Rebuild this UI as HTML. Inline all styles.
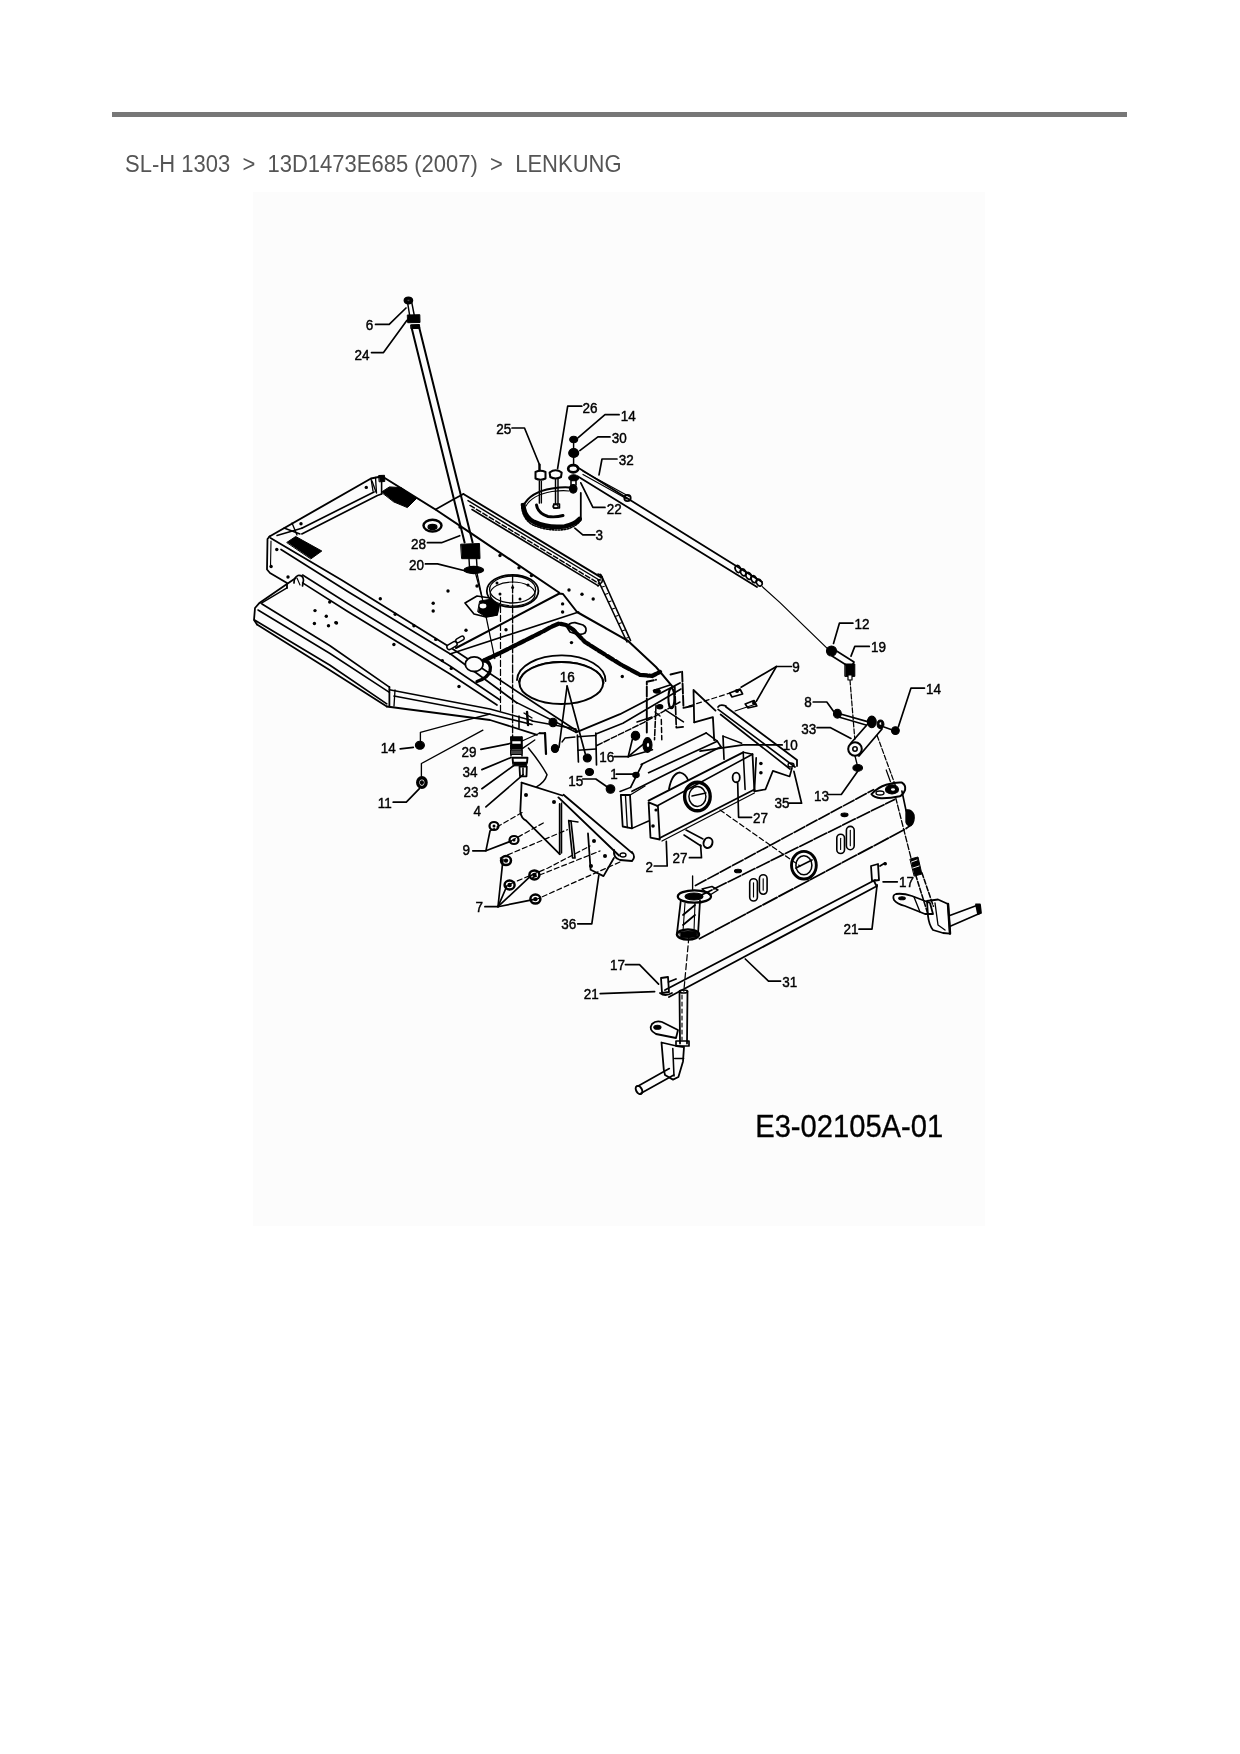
<!DOCTYPE html>
<html><head><meta charset="utf-8">
<style>
html,body{margin:0;padding:0;background:#fff;}
body{width:1240px;height:1754px;position:relative;overflow:hidden;font-family:"Liberation Sans",sans-serif;}
#rule{position:absolute;left:112px;top:112px;width:1015px;height:5px;background:#777;}
#crumb{position:absolute;left:125px;top:150.7px;font-size:22px;color:#555;white-space:pre;line-height:24px;transform:scaleY(1.08);transform-origin:0 0;}
#fig{position:absolute;left:253px;top:192px;width:732px;height:1034px;background:#fcfcfc;}
#dia{position:absolute;left:0;top:0;}
#crumb,#dia{filter:grayscale(1);}
</style></head><body>
<div id="rule"></div>
<div id="crumb">SL-H 1303  &gt;  13D1473E685 (2007)  &gt;  LENKUNG</div>
<div id="fig"></div>
<svg id="dia" width="1240" height="1754" viewBox="0 0 1240 1754">
<g fill="none" stroke="#000" stroke-width="1.6" stroke-linecap="round" stroke-linejoin="round">
<polyline points="375.5,324.4 389.2,324.4 406.0,308.0" stroke-width="1.68"/>
<polyline points="371.5,352.6 383.5,352.6 407.0,320.3" stroke-width="1.68"/>
<polyline points="512.0,428.0 524.5,428.0 539.5,464.7" stroke-width="1.68"/>
<polyline points="581.8,406.2 567.7,406.2 557.6,468.7" stroke-width="1.68"/>
<polyline points="619.1,414.7 605.0,414.7 578.2,437.6" stroke-width="1.68"/>
<polyline points="610.0,436.9 597.9,436.9 579.8,450.6" stroke-width="1.68"/>
<polyline points="617.0,459.0 602.0,459.0 599.0,474.8" stroke-width="1.68"/>
<polyline points="605.0,507.4 592.9,507.4 580.8,482.8" stroke-width="1.68"/>
<polyline points="594.9,534.8 582.8,534.8 574.8,528.2" stroke-width="1.68"/>
<polyline points="427.4,542.7 441.5,542.7 459.7,535.7" stroke-width="1.68"/>
<polyline points="425.4,563.9 437.5,563.9 469.8,572.0" stroke-width="1.68"/>
<polyline points="791.5,666.5 776.4,666.5 741.1,687.2" stroke-width="1.68"/>
<polyline points="776.4,666.5 756.3,701.3" stroke-width="1.68"/>
<polyline points="852.9,623.2 839.4,623.2 833.5,643.5" stroke-width="1.68"/>
<polyline points="869.3,646.4 854.8,646.4 851.0,656.1" stroke-width="1.68"/>
<polyline points="924.5,688.1 911.0,688.1 898.4,726.8" stroke-width="1.68"/>
<polyline points="813.2,702.0 826.8,702.0 833.5,711.3" stroke-width="1.68"/>
<polyline points="817.1,727.7 830.6,727.7 851.0,738.4" stroke-width="1.68"/>
<polyline points="782.2,744.9 743.2,744.9 700.0,751.2" stroke-width="1.68"/>
<polyline points="614.1,756.7 628.2,756.7 632.3,739.6" stroke-width="1.68"/>
<polyline points="628.2,756.7 646.4,741.6" stroke-width="1.68"/>
<polyline points="628.2,756.7 652.4,749.7" stroke-width="1.68"/>
<polyline points="616.2,774.2 633.8,774.2" stroke-width="1.68"/>
<polyline points="828.7,794.5 841.3,794.5 857.7,771.3" stroke-width="1.68"/>
<polyline points="789.0,803.2 801.6,803.2 793.9,771.3" stroke-width="1.68"/>
<polyline points="751.6,817.3 738.6,817.3 737.7,783.0" stroke-width="1.68"/>
<polyline points="689.4,857.7 701.5,857.7 700.6,845.1" stroke-width="1.68"/>
<polyline points="654.2,866.0 667.2,866.0 666.3,841.4" stroke-width="1.68"/>
<polyline points="400.2,748.8 413.3,747.4" stroke-width="1.68"/>
<polyline points="480.9,749.4 511.1,743.3" stroke-width="1.68"/>
<polyline points="481.9,769.6 511.1,757.5" stroke-width="1.68"/>
<polyline points="481.9,788.7 515.2,764.5" stroke-width="1.68"/>
<polyline points="485.9,806.9 523.2,774.6" stroke-width="1.68"/>
<polyline points="393.2,802.2 406.3,802.2 419.4,788.7" stroke-width="1.68"/>
<polyline points="582.7,779.0 595.8,779.0 609.9,788.7" stroke-width="1.68"/>
<polyline points="472.8,850.8 485.9,850.8 490.0,831.0" stroke-width="1.68"/>
<polyline points="485.9,850.8 511.1,841.1" stroke-width="1.68"/>
<polyline points="484.9,906.7 498.0,906.7 503.0,859.3" stroke-width="1.68"/>
<polyline points="498.0,906.7 507.1,885.5" stroke-width="1.68"/>
<polyline points="498.0,906.7 531.3,875.4" stroke-width="1.68"/>
<polyline points="498.0,906.7 533.3,899.6" stroke-width="1.68"/>
<polyline points="577.7,923.8 591.8,923.8 598.8,875.4" stroke-width="1.68"/>
<polyline points="897.3,881.8 883.1,881.8" stroke-width="1.68"/>
<polyline points="859.0,929.2 872.0,929.2 877.1,884.8" stroke-width="1.68"/>
<polyline points="780.6,981.1 768.5,981.1 745.3,959.0" stroke-width="1.68"/>
<polyline points="625.4,964.6 639.5,964.6 658.6,984.2" stroke-width="1.68"/>
<polyline points="600.2,993.6 654.6,991.6" stroke-width="1.68"/>
<polyline points="567.1,686.0 559.0,747.5" stroke-width="1.68"/>
<polyline points="567.1,686.0 585.2,753.5" stroke-width="1.68"/>
<ellipse cx="408.4" cy="300.5" rx="4.2" ry="3.4" stroke-width="1.34" fill="#000"/>
<ellipse cx="408.6" cy="300.3" rx="1.5" ry="0.9" stroke-width="0.56" fill="#555"/>
<polyline points="407.7,303.4 409.6,315.0" stroke-width="1.46"/>
<polyline points="411.8,302.6 414.2,315.0" stroke-width="1.46"/>
<polygon points="407.7,315.0 419.8,314.7 420.0,322.5 408.0,322.7" fill="#000" stroke-width="1.0"/>
<polygon points="411.0,324.8 419.5,324.5 419.8,328.4 411.2,328.6" fill="#000" stroke-width="1.0"/>
<polyline points="411.8,328.4 464.6,542.5" stroke-width="2.02"/>
<polyline points="419.0,326.8 472.6,542.5" stroke-width="2.02"/>
<polygon points="461.0,544.2 479.5,543.5 480.0,558.7 462.0,558.7" fill="#000" stroke-width="1.0"/>
<polyline points="469.0,558.7 469.5,567.0" stroke-width="1.46"/>
<polyline points="476.5,558.7 477.0,567.0" stroke-width="1.46"/>
<ellipse cx="473.8" cy="570" rx="9.8" ry="3.6" stroke-width="1.12" fill="#000"/>
<polyline points="475.5,573.2 482.0,597.4" stroke-width="1.34"/>
<polyline points="269.5,536.5 371.0,478.5 381.0,476.5" stroke-width="1.90"/>
<polyline points="301.8,528.2 374.0,492.0" stroke-width="1.68"/>
<polyline points="277.0,535.5 301.8,528.2" stroke-width="1.46"/>
<polyline points="301.8,533.9 377.4,495.5 381.6,494.0" stroke-width="1.68"/>
<polyline points="371.0,478.5 373.0,491.0" stroke-width="1.34"/>
<polyline points="375.5,477.5 376.5,493.0" stroke-width="1.34"/>
<polyline points="292.0,523.0 297.0,535.0" stroke-width="1.34"/>
<polyline points="284.0,528.0 300.0,534.0" stroke-width="1.34"/>
<polyline points="372.0,481.0 376.0,492.0" stroke-width="1.34"/>
<polyline points="381.5,476.0 435.5,509.5 472.0,533.8 559.0,592.5" stroke-width="2.02"/>
<polygon points="381.6,492.0 389.4,486.9 401.0,487.6 416.5,498.5 407.4,507.6 394.0,502.0" fill="#000" stroke-width="1.0"/>
<polygon points="379.0,475.5 384.5,475.3 384.8,481.5 379.5,481.8" fill="#000" stroke-width="1.0"/>
<polyline points="381.6,476.6 381.6,494.0" stroke-width="1.57"/>
<polygon points="287.0,542.3 295.7,536.5 321.8,551.0 311.1,558.7" fill="#000" stroke-width="1.0"/>
<polyline points="269.5,536.5 267.5,539.0 267.0,569.5 270.0,573.0 287.0,583.0 287.0,588.0" stroke-width="1.79"/>
<polyline points="271.0,541.0 270.5,567.0" stroke-width="1.12"/>
<polyline points="270.5,538.0 341.6,580.0 452.0,648.5 577.0,731.0" stroke-width="1.79"/>
<polyline points="281.0,549.5 347.7,591.5 452.0,655.0 517.0,703.0" stroke-width="1.68"/>
<polyline points="302.6,575.0 347.7,603.5 450.0,666.0 500.0,700.0" stroke-width="1.57"/>
<polyline points="302.6,582.9 347.7,611.5 450.0,674.0 497.0,705.0" stroke-width="1.68"/>
<path d="M294,583 Q294,577 298,575.5 Q303,575 303.5,580 L302.5,586" stroke-width="1.68" fill="none"/>
<polyline points="297.0,578.0 300.0,585.0" stroke-width="1.12"/>
<polyline points="295.7,578.0 259.7,602.7 255.0,608.0 254.0,620.0 257.0,624.5" stroke-width="1.79"/>
<polyline points="287.0,587.8 261.0,603.3" stroke-width="1.46"/>
<polyline points="262.0,604.0 330.0,645.8 389.4,687.1" stroke-width="1.68"/>
<polyline points="258.0,610.0 330.0,653.5 389.4,692.3" stroke-width="1.57"/>
<polyline points="254.5,620.0 330.0,665.2 386.8,703.9" stroke-width="1.68"/>
<polyline points="257.0,624.5 330.0,670.3 386.8,706.5" stroke-width="1.79"/>
<polyline points="389.4,687.0 389.4,706.5" stroke-width="1.79"/>
<polyline points="395.0,690.0 394.0,706.0" stroke-width="1.34"/>
<polyline points="389.4,689.7 490.0,709.0 532.0,720.6" stroke-width="1.57"/>
<polyline points="394.0,696.1 490.0,714.2 532.0,724.5" stroke-width="1.57"/>
<polyline points="386.8,706.5 490.0,720.0 537.0,734.8" stroke-width="1.79"/>
<circle cx="315" cy="610.6" r="1.7" fill="#000" stroke="none"/>
<circle cx="326.3" cy="616.2" r="1.7" fill="#000" stroke="none"/>
<circle cx="314.4" cy="623.5" r="1.7" fill="#000" stroke="none"/>
<circle cx="328.5" cy="625.8" r="1.7" fill="#000" stroke="none"/>
<circle cx="336.5" cy="623" r="1.7" fill="#000" stroke="none"/>
<circle cx="329.7" cy="602.1" r="1.7" fill="#000" stroke="none"/>
<circle cx="276.8" cy="549.5" r="1.7" fill="#000" stroke="none"/>
<circle cx="271.1" cy="566.5" r="1.7" fill="#000" stroke="none"/>
<circle cx="288" cy="577" r="1.7" fill="#000" stroke="none"/>
<circle cx="380.3" cy="598.7" r="1.7" fill="#000" stroke="none"/>
<circle cx="395.2" cy="614.2" r="1.7" fill="#000" stroke="none"/>
<circle cx="393.9" cy="644.5" r="1.7" fill="#000" stroke="none"/>
<circle cx="335.8" cy="622.6" r="1.7" fill="#000" stroke="none"/>
<circle cx="448" cy="591" r="1.7" fill="#000" stroke="none"/>
<circle cx="433.2" cy="603.2" r="1.7" fill="#000" stroke="none"/>
<circle cx="433.2" cy="611" r="1.7" fill="#000" stroke="none"/>
<circle cx="466" cy="630.3" r="1.7" fill="#000" stroke="none"/>
<circle cx="413.9" cy="625.8" r="1.7" fill="#000" stroke="none"/>
<circle cx="435.8" cy="639.4" r="1.7" fill="#000" stroke="none"/>
<circle cx="442.3" cy="660.6" r="1.7" fill="#000" stroke="none"/>
<circle cx="451.3" cy="668.4" r="1.7" fill="#000" stroke="none"/>
<circle cx="459" cy="686.5" r="1.7" fill="#000" stroke="none"/>
<circle cx="506" cy="629.7" r="1.7" fill="#000" stroke="none"/>
<circle cx="477" cy="586" r="1.7" fill="#000" stroke="none"/>
<circle cx="562.6" cy="603.9" r="1.7" fill="#000" stroke="none"/>
<circle cx="562.6" cy="612" r="1.7" fill="#000" stroke="none"/>
<circle cx="569" cy="590" r="1.7" fill="#000" stroke="none"/>
<circle cx="582" cy="594.2" r="1.7" fill="#000" stroke="none"/>
<circle cx="593.2" cy="599" r="1.7" fill="#000" stroke="none"/>
<circle cx="571.5" cy="642.6" r="1.7" fill="#000" stroke="none"/>
<circle cx="622.3" cy="676.5" r="1.7" fill="#000" stroke="none"/>
<circle cx="366.3" cy="487.4" r="1.7" fill="#000" stroke="none"/>
<circle cx="301" cy="523.7" r="1.7" fill="#000" stroke="none"/>
<circle cx="500" cy="555.5" r="1.7" fill="#000" stroke="none"/>
<circle cx="519" cy="567.7" r="1.7" fill="#000" stroke="none"/>
<circle cx="531.5" cy="575.5" r="1.7" fill="#000" stroke="none"/>
<circle cx="460" cy="527" r="1.7" fill="#000" stroke="none"/>
<ellipse cx="432.5" cy="525.6" rx="9" ry="5.8" stroke-width="2.46" fill="none"/>
<ellipse cx="432.5" cy="527" rx="4.5" ry="2.6" stroke-width="1.12" fill="#000"/>
<polyline points="435.5,509.5 452.3,500.0 463.4,494.0" stroke-width="1.68"/>
<polyline points="463.4,494.0 601.0,577.4" stroke-width="1.90"/>
<polyline points="468.0,500.6 600.0,580.5" stroke-width="1.46"/>
<polyline points="470.0,505.4 599.0,583.5" stroke-width="1.46" stroke-dasharray="5 2.5"/>
<polyline points="472.0,509.5 598.0,585.7" stroke-width="1.57"/>
<path d="M598,574 Q604,575 602,582 L598,586" stroke-width="1.57" fill="none"/>
<polyline points="600.5,574.5 602.5,578.0 630.5,640.5" stroke-width="1.68"/>
<polyline points="598.0,580.0 627.0,642.0" stroke-width="1.57"/>
<polyline points="598.0,580.0 601.0,579.0" stroke-width="1.01"/>
<polyline points="601.4,587.3 604.4,586.3" stroke-width="1.01"/>
<polyline points="604.8,594.6 607.8,593.6" stroke-width="1.01"/>
<polyline points="608.2,601.9 611.2,600.9" stroke-width="1.01"/>
<polyline points="611.6,609.2 614.6,608.2" stroke-width="1.01"/>
<polyline points="615.1,616.5 618.1,615.5" stroke-width="1.01"/>
<polyline points="618.5,623.8 621.5,622.8" stroke-width="1.01"/>
<polyline points="621.9,631.1 624.9,630.1" stroke-width="1.01"/>
<polyline points="625.3,638.4 628.3,637.4" stroke-width="1.01"/>
<polyline points="456.0,648.0 559.4,593.5 563.0,594.0 577.0,612.0 627.6,640.6 656.0,667.0 672.9,687.1" stroke-width="2.02"/>
<polyline points="450.0,654.0 578.7,612.0" stroke-width="1.57"/>
<ellipse cx="512.6" cy="591" rx="25.8" ry="16.1" stroke-width="1.79" fill="none"/>
<ellipse cx="512.6" cy="589.5" rx="23" ry="13.5" stroke-width="1.34" fill="none"/>
<ellipse cx="512.6" cy="594" rx="22.5" ry="12" stroke-width="1.12" fill="none"/>
<circle cx="497" cy="583" r="1.5" fill="#000" stroke="none"/>
<circle cx="512.6" cy="587.5" r="1.5" fill="#000" stroke="none"/>
<circle cx="500" cy="594" r="1.5" fill="#000" stroke="none"/>
<circle cx="520" cy="599" r="1.5" fill="#000" stroke="none"/>
<circle cx="528" cy="585" r="1.5" fill="#000" stroke="none"/>
<polyline points="512.6,574.8 512.6,738.0" stroke-width="1.34" stroke-dasharray="8 2"/>
<polyline points="500.5,597.4 500.5,711.0" stroke-width="1.23" stroke-dasharray="6 3"/>
<polyline points="477.0,573.0 494.8,658.7" stroke-width="1.23"/>
<path d="M465,603 L477,596 L490,598 L499,606 L497,615 L486,617 L474,614 Z" stroke-width="1.68" fill="none"/>
<polygon points="480.0,601.0 492.0,599.0 499.0,606.0 497.0,615.0 486.0,617.0 478.0,612.0" fill="#000" stroke-width="1.0"/>
<ellipse cx="483" cy="606" rx="4" ry="3" stroke-width="1.12" fill="#fff"/>
<rect x="446.5" y="643" width="11" height="5" rx="2.5" transform="rotate(-30 452 645.5)" stroke-width="1.5" fill="#fcfcfc"/>
<rect x="455.5" y="637.3" width="9" height="4" rx="2" transform="rotate(-30 460 639.3)" stroke-width="1.4" fill="#fcfcfc"/>
<path d="M567.4,628 Q568,622.4 575,622.6 L583,625 Q588,628 585,633 Q582,635 576,634 L570,632 Z" stroke-width="1.68" fill="none"/>
<ellipse cx="561.3" cy="683" rx="41.9" ry="21" stroke-width="2.02" fill="none"/>
<path d="M517,680 A44,25 0 0 1 605.5,681" stroke-width="1.79" fill="none"/>
<path d="M518.5,682 A43,23.5 0 0 1 604,683" stroke-width="1.12" fill="none"/>
<polyline points="484.0,660.5 500.0,653.0 520.0,643.0 540.0,633.0 552.0,626.5 559.0,623.5 566.0,625.0 573.0,629.5 585.0,642.0 601.3,652.3 620.0,664.0 640.0,674.8 652.0,676.0 660.0,672.0" stroke-width="4.26" stroke-dasharray="7 2.5"/>
<ellipse cx="474.2" cy="664.2" rx="8.9" ry="7.3" stroke-width="1.79" fill="#fcfcfc"/>
<path d="M483.9,660.2 Q492,663 490,671 Q488,678 477,681.5" stroke-width="3.36" fill="none"/>
<polyline points="516.8,702.6 576.1,732.3" stroke-width="1.57"/>
<polyline points="576.1,732.3 620.0,714.2 680.0,683.0" stroke-width="1.79"/>
<polyline points="596.0,734.0 622.9,723.2 681.0,689.0" stroke-width="1.57"/>
<polyline points="596.8,745.5 644.2,722.3 680.0,702.0" stroke-width="1.46" stroke-dasharray="6 2"/>
<polyline points="532.0,721.0 576.0,729.0 576.0,732.0" stroke-width="1.34"/>
<polyline points="519.0,716.0 519.0,728.0" stroke-width="1.57"/>
<polyline points="527.0,712.0 528.0,725.0" stroke-width="2.46"/>
<polyline points="524.0,713.0 532.0,718.0" stroke-width="1.34"/>
<path d="M523.3,506 Q530,492 552,488.5 Q566,486.5 572,488" stroke-width="2.02" fill="none"/>
<path d="M526,506 Q532,495 552,491.5 Q563,490 569,491" stroke-width="1.12" fill="none"/>
<polyline points="580.8,492.9 580.8,519.1" stroke-width="1.79"/>
<path d="M523.3,505 Q524,517 534,522 Q548,528.5 564.7,526.5 Q575,524 579.5,519" stroke-width="4.70" fill="none"/>
<path d="M521.5,504 Q522,519 533,525 Q548,531.5 565,529.5 Q576,527 581,520" stroke-width="1.57" fill="none" stroke-dasharray="1.5 1.5"/>
<path d="M536.5,505 Q538,513.5 548,516.5 Q556,517.5 563,515.5" stroke-width="2.91" fill="none"/>
<ellipse cx="555.6" cy="506.5" rx="2.6" ry="1.8" stroke-width="1.34" fill="none"/>
<path d="M535.5,472 Q540.5,469.5 545.5,472 L545.5,478.5 Q540.5,481 535.5,478.5 Z" stroke-width="2.02" fill="none"/>
<polyline points="539.5,481.0 539.5,503.0" stroke-width="1.68"/>
<polyline points="541.5,481.0 541.5,503.0" stroke-width="1.12"/>
<polyline points="539.5,464.7 539.5,470.0" stroke-width="2.46"/>
<path d="M549.6,472.5 Q555.6,468 561.7,472.5 L561,477 Q555.6,480 550.3,477 Z" stroke-width="2.02" fill="none"/>
<polyline points="555.5,479.0 555.5,504.0" stroke-width="1.46"/>
<polyline points="558.0,479.0 558.0,504.0" stroke-width="1.46"/>
<path d="M553.6,504 L559.6,504 L559.6,508 L553.6,508 Z" stroke-width="1.34" fill="none"/>
<ellipse cx="573.7" cy="439.5" rx="4" ry="3.2" stroke-width="1.12" fill="#000"/>
<polyline points="573.6,442.0 573.6,449.0" stroke-width="1.46"/>
<ellipse cx="573.7" cy="453" rx="5" ry="4.5" stroke-width="1.12" fill="#000"/>
<polyline points="573.6,457.0 573.6,465.0" stroke-width="1.46"/>
<ellipse cx="573.2" cy="468.7" rx="5" ry="3.6" stroke-width="2.69" fill="none"/>
<ellipse cx="573.7" cy="477.8" rx="5" ry="3" stroke-width="1.12" fill="#000"/>
<ellipse cx="573.2" cy="488.8" rx="3.8" ry="4.3" stroke-width="1.12" fill="#000"/>
<polyline points="571.0,481.0 571.0,485.0" stroke-width="1.57"/>
<polyline points="576.0,481.0 576.0,485.0" stroke-width="1.57"/>
<polyline points="577.0,467.0 762.0,582.0" stroke-width="1.79"/>
<polyline points="578.0,476.5 757.0,587.0" stroke-width="1.79"/>
<polyline points="583.0,471.3 629.2,496.5" stroke-width="1.23"/>
<polyline points="583.0,474.5 627.0,499.0" stroke-width="1.23"/>
<ellipse cx="627.5" cy="498" rx="3.2" ry="3.2" stroke-width="1.79" fill="none"/>
<ellipse cx="738.0" cy="569.0" rx="2.6" ry="3.6" stroke-width="1.68" fill="none" transform="rotate(-30 738.0 569.0)"/>
<ellipse cx="743.3" cy="572.4" rx="2.6" ry="3.6" stroke-width="1.68" fill="none" transform="rotate(-30 743.3 572.4)"/>
<ellipse cx="748.6" cy="575.8" rx="2.6" ry="3.6" stroke-width="1.68" fill="none" transform="rotate(-30 748.6 575.8)"/>
<ellipse cx="753.9" cy="579.2" rx="2.6" ry="3.6" stroke-width="1.68" fill="none" transform="rotate(-30 753.9 579.2)"/>
<ellipse cx="759.2" cy="582.6" rx="2.6" ry="3.6" stroke-width="1.68" fill="none" transform="rotate(-30 759.2 582.6)"/>
<polyline points="762.3,586.6 780.0,602.6 829.8,650.9" stroke-width="1.23"/>
<ellipse cx="831.5" cy="651" rx="5" ry="5" stroke-width="1.12" fill="#000"/>
<path d="M835,650 L854,662 L851,668 L832,656 Z" stroke-width="1.68" fill="none"/>
<polygon points="845.2,664.0 854.8,664.0 854.8,676.4 845.2,676.4" fill="#000" stroke-width="1.0"/>
<path d="M848,675 L852,675 L852,680 L848,680 Z" stroke-width="1.23" fill="#fff"/>
<polyline points="850.0,680.0 854.8,739.3" stroke-width="1.23" stroke-dasharray="5 2"/>
<path d="M851,743 L873,718 M859,756 L882,729" stroke-width="1.79" fill="none"/>
<ellipse cx="855" cy="749" rx="6.8" ry="6.8" stroke-width="2.02" fill="none"/>
<ellipse cx="855" cy="749" rx="2.2" ry="2.2" stroke-width="1.57" fill="none"/>
<ellipse cx="871.8" cy="721.9" rx="4.4" ry="5.8" stroke-width="1.12" fill="#000"/>
<ellipse cx="880.5" cy="724.3" rx="3.4" ry="4.3" stroke-width="1.12" fill="#000"/>
<ellipse cx="880.5" cy="723.5" rx="1.2" ry="1.6" stroke-width="0.56" fill="#fff"/>
<polyline points="837.0,713.0 868.4,721.9" stroke-width="1.68"/>
<polyline points="837.0,716.5 866.0,725.0" stroke-width="1.34"/>
<ellipse cx="837.4" cy="713.7" rx="3.9" ry="4.4" stroke-width="1.12" fill="#000"/>
<ellipse cx="895.4" cy="730.6" rx="3.9" ry="3.9" stroke-width="1.12" fill="#000"/>
<polyline points="884.0,727.0 891.0,729.5" stroke-width="1.34"/>
<ellipse cx="857.7" cy="767.9" rx="4.8" ry="3.4" stroke-width="1.12" fill="#000"/>
<polyline points="855.0,756.0 857.0,764.0" stroke-width="1.34"/>
<polyline points="877.1,735.5 895.5,785.8" stroke-width="1.23" stroke-dasharray="5 2"/>
<polyline points="646.8,732.6 646.8,681.8 656.0,679.8" stroke-width="1.90" stroke-dasharray="10 2"/>
<polyline points="670.5,674.5 682.1,671.6 683.5,707.9 692.2,706.0" stroke-width="1.90" stroke-dasharray="10 2"/>
<polyline points="674.8,686.6 676.3,727.7 684.5,726.8" stroke-width="1.68" stroke-dasharray="8 2"/>
<ellipse cx="671.4" cy="698.2" rx="3" ry="10" stroke-width="2.02" fill="none"/>
<ellipse cx="656.9" cy="691.2" rx="3.4" ry="1.9" stroke-width="1.12" fill="#000"/>
<ellipse cx="659.8" cy="706.7" rx="3" ry="2.2" stroke-width="1.12" fill="#000"/>
<polyline points="653.5,690.5 670.0,685.0" stroke-width="1.57"/>
<polyline points="656.0,705.5 654.5,739.8" stroke-width="1.57" stroke-dasharray="6 2"/>
<polyline points="661.3,719.5 661.8,739.8" stroke-width="1.46" stroke-dasharray="5 3"/>
<polyline points="665.2,709.8 683.5,721.9" stroke-width="1.46"/>
<polyline points="694.2,722.3 693.5,690.0 715.5,710.6" stroke-width="1.79"/>
<polyline points="694.2,722.3 712.9,717.1 714.2,740.3" stroke-width="1.79"/>
<polyline points="689.0,706.0 730.0,693.0" stroke-width="1.23" stroke-dasharray="5 3"/>
<path d="M729.7,693 L740,689 L742.6,694 L732,697 Z" stroke-width="1.68" fill="none"/>
<circle cx="737" cy="691" r="2" fill="#000" stroke="none"/>
<path d="M745.2,704 L754,700.5 L756.8,706 L748,708 Z" stroke-width="1.68" fill="none"/>
<circle cx="754" cy="703" r="2" fill="#000" stroke="none"/>
<polyline points="756.0,704.0 735.0,711.0" stroke-width="1.12"/>
<ellipse cx="635.5" cy="735.8" rx="4.2" ry="4.5" stroke-width="1.12" fill="#000"/>
<ellipse cx="647.5" cy="745" rx="4.5" ry="7.5" stroke-width="1.12" fill="#000"/>
<ellipse cx="648" cy="745" rx="1.8" ry="2.5" stroke-width="1.12" fill="#fff"/>
<polyline points="637.0,722.0 652.0,717.0" stroke-width="1.46"/>
<polyline points="655.0,712.0 660.0,716.0" stroke-width="1.46"/>
<ellipse cx="553" cy="722.5" rx="4" ry="4.3" stroke-width="1.12" fill="#000"/>
<ellipse cx="555" cy="748.5" rx="3.6" ry="4" stroke-width="1.12" fill="#000"/>
<polyline points="545.0,733.0 546.0,754.0" stroke-width="2.24"/>
<polyline points="539.5,733.2 545.0,733.2" stroke-width="2.02"/>
<ellipse cx="587.3" cy="758" rx="4" ry="4" stroke-width="1.12" fill="#000"/>
<ellipse cx="589.5" cy="772" rx="4" ry="3.5" stroke-width="1.12" fill="#000"/>
<ellipse cx="610.5" cy="789" rx="4.3" ry="4.3" stroke-width="1.12" fill="#000"/>
<polyline points="577.4,735.0 578.4,762.0" stroke-width="1.68"/>
<polyline points="595.8,733.0 596.5,765.0" stroke-width="1.68"/>
<polyline points="577.4,736.8 595.8,735.5" stroke-width="1.46"/>
<polyline points="578.0,750.3 596.0,749.0" stroke-width="1.46"/>
<polyline points="562.0,742.0 565.0,738.0 575.0,737.0" stroke-width="1.34"/>
<polyline points="725.8,706.8 797.0,760.0 797.0,766.0" stroke-width="1.79"/>
<polyline points="718.1,709.4 795.0,767.0" stroke-width="1.68"/>
<polyline points="720.6,714.5 790.0,769.0" stroke-width="1.68"/>
<path d="M718,707 Q720,704 726,706" stroke-width="1.68" fill="none"/>
<polyline points="756.2,757.9 754.4,791.3 765.5,789.4 772.9,770.9 789.6,776.5 792.0,768.0" stroke-width="1.68"/>
<circle cx="760.9" cy="763.5" r="1.8" fill="#000" stroke="none"/>
<circle cx="760.9" cy="772.7" r="1.8" fill="#000" stroke="none"/>
<ellipse cx="791" cy="765" rx="3" ry="2" stroke-width="1.34" fill="none"/>
<polyline points="723.0,736.1 724.0,759.2" stroke-width="1.68"/>
<polyline points="723.0,736.1 741.7,743.2" stroke-width="1.46"/>
<polyline points="641.2,764.4 706.1,732.9" stroke-width="1.68"/>
<polyline points="648.6,772.7 717.3,741.2" stroke-width="1.68"/>
<polyline points="632.0,791.3 721.0,746.8" stroke-width="1.68"/>
<polyline points="706.1,732.9 717.3,741.2 721.0,746.8" stroke-width="1.57"/>
<polyline points="630.6,787.4 642.3,764.2" stroke-width="1.68"/>
<polyline points="620.0,791.5 630.6,787.4" stroke-width="1.46"/>
<ellipse cx="636" cy="775" rx="3.2" ry="2.6" stroke-width="1.12" fill="#000"/>
<polyline points="620.8,795.0 622.7,826.5 632.0,828.4 630.0,795.0 620.8,795.0" stroke-width="1.79"/>
<polyline points="625.5,796.0 627.3,827.5" stroke-width="1.34"/>
<polyline points="632.0,828.4 648.6,821.0" stroke-width="1.57"/>
<path d="M669,789 Q672,773 680,772.5 Q686,774 688,780" stroke-width="1.79" fill="none"/>
<polyline points="648.6,800.6 743.2,752.3" stroke-width="1.90"/>
<polyline points="657.0,806.0 752.5,754.2" stroke-width="1.57"/>
<polyline points="659.8,838.0 754.4,789.5" stroke-width="1.90"/>
<polyline points="662.0,841.0 754.4,793.0" stroke-width="1.34"/>
<polyline points="648.6,802.4 650.5,837.7 659.8,839.5 657.9,806.1 648.6,802.4" stroke-width="1.79"/>
<polyline points="743.2,752.3 745.1,789.4" stroke-width="1.57"/>
<polyline points="752.5,754.2 754.4,791.3" stroke-width="1.79"/>
<polyline points="743.2,752.3 752.5,754.2" stroke-width="1.57"/>
<circle cx="653" cy="826" r="1.8" fill="#000" stroke="none"/>
<circle cx="656" cy="810" r="1.6" fill="#000" stroke="none"/>
<ellipse cx="697.4" cy="796.5" rx="12.8" ry="14.2" stroke-width="3.36" fill="none"/>
<ellipse cx="697.4" cy="796.5" rx="8.5" ry="10" stroke-width="1.46" fill="none"/>
<polyline points="692.0,796.0 706.0,793.0" stroke-width="1.46"/>
<ellipse cx="736.2" cy="777.5" rx="3.6" ry="4.8" stroke-width="1.79" fill="none"/>
<polyline points="736.2,782.0 737.7,783.0" stroke-width="1.34"/>
<polyline points="686.0,830.0 703.0,839.0" stroke-width="1.57"/>
<polyline points="684.0,835.0 701.0,846.0" stroke-width="1.57"/>
<ellipse cx="708" cy="842.8" rx="4.4" ry="5.2" stroke-width="2.02" fill="none" transform="rotate(20 708 842.8)"/>
<polyline points="720.0,810.0 800.0,866.0" stroke-width="1.23" stroke-dasharray="5 3"/>
<polyline points="511.0,737.0 511.0,756.0" stroke-width="1.46"/>
<polyline points="522.0,737.0 522.0,756.0" stroke-width="1.46"/>
<polygon points="511.0,736.8 522.0,736.8 522.0,740.2 511.0,740.2" fill="#000" stroke-width="1.0"/>
<path d="M511.5,740.5 L521.5,740.5 L521.5,744.6 L511.5,744.6 Z" stroke-width="1.57" fill="none"/>
<polygon points="511.0,744.8 522.0,744.8 522.0,749.0 511.0,749.0" fill="#000" stroke-width="1.0"/>
<polygon points="511.0,750.0 522.0,750.0 522.0,754.5 511.0,754.5" fill="#444" stroke-width="1.0"/>
<path d="M512.5,757.7 L527.5,757.7 L527,762.6 L513,762.6 Z" stroke-width="1.90" fill="none"/>
<polygon points="513.0,762.6 527.0,762.6 526.5,765.8 513.5,765.8" fill="#000" stroke-width="1.0"/>
<path d="M519.5,766.6 L526.8,766.6 L526.5,776.3 L520,776.3 Z" stroke-width="1.79" fill="none"/>
<polyline points="523.0,768.0 523.0,775.0" stroke-width="1.57"/>
<polyline points="521.9,748.9 534.8,740.0" stroke-width="1.34"/>
<path d="M528.4,748 Q540,762 547,774.7 Q545,782 536.5,786.8" stroke-width="1.46" fill="none"/>
<polyline points="522.0,741.0 540.0,733.0" stroke-width="1.34"/>
<ellipse cx="419.9" cy="745.3" rx="4.5" ry="4" stroke-width="1.12" fill="#000"/>
<polyline points="420.4,743.3 420.4,732.3 454.7,723.2 490.0,714.0" stroke-width="1.34"/>
<ellipse cx="421.9" cy="782.6" rx="4.2" ry="4.8" stroke-width="3.36" fill="none"/>
<ellipse cx="421.9" cy="782.6" rx="1.5" ry="1.8" stroke-width="1.12" fill="#000"/>
<polyline points="421.4,777.6 421.4,763.5 482.9,730.2" stroke-width="1.34"/>
<polyline points="521.6,782.6 562.3,795.5" stroke-width="1.79"/>
<path d="M521.6,782.6 L520.3,811.6 Q521,818 526.1,820.6 L559.7,854.2" stroke-width="1.79" fill="none"/>
<polyline points="559.7,803.9 559.7,854.2" stroke-width="1.79"/>
<polyline points="561.6,803.0 561.6,853.0" stroke-width="1.34"/>
<circle cx="526" cy="795" r="2" fill="#000" stroke="none"/>
<circle cx="554" cy="802" r="2" fill="#000" stroke="none"/>
<polyline points="558.4,797.4 619.0,855.5" stroke-width="1.90"/>
<polyline points="563.5,794.8 632.0,852.9" stroke-width="1.90"/>
<path d="M614,850 Q613,858 620,860 L632,861 Q636,857 632,852" stroke-width="1.79" fill="none"/>
<ellipse cx="623" cy="855" rx="3" ry="2" stroke-width="1.34" fill="none"/>
<polyline points="568.7,820.6 572.6,858.0 575.0,858.0 571.0,821.0 568.7,820.6" stroke-width="1.68"/>
<polyline points="568.7,820.6 578.0,822.0" stroke-width="1.46"/>
<polyline points="588.0,833.5 590.6,869.7 603.5,876.1 613.9,858.0" stroke-width="1.79"/>
<circle cx="594" cy="841" r="2" fill="#000" stroke="none"/>
<circle cx="605" cy="856" r="2" fill="#000" stroke="none"/>
<circle cx="591" cy="866" r="2" fill="#000" stroke="none"/>
<polyline points="630.6,794.8 645.0,786.0" stroke-width="1.34"/>
<polyline points="500.3,858.0 567.4,829.7" stroke-width="1.23" stroke-dasharray="5 3"/>
<polyline points="510.0,884.0 548.0,868.0 590.0,846.0" stroke-width="1.23" stroke-dasharray="5 3"/>
<polyline points="532.0,878.0 600.0,851.0" stroke-width="1.23" stroke-dasharray="5 3"/>
<polyline points="535.0,900.0 620.0,862.0" stroke-width="1.23" stroke-dasharray="5 3"/>
<polyline points="490.0,831.0 523.0,812.0" stroke-width="1.23" stroke-dasharray="5 3"/>
<polyline points="511.0,841.0 545.0,822.0" stroke-width="1.23" stroke-dasharray="5 3"/>
<ellipse cx="494" cy="826" rx="4.5" ry="4" stroke-width="2.24" fill="none"/>
<circle cx="494" cy="826" r="1.5" fill="#000" stroke="none"/>
<ellipse cx="514" cy="840" rx="4.5" ry="4" stroke-width="2.24" fill="none"/>
<circle cx="514" cy="840" r="1.5" fill="#000" stroke="none"/>
<ellipse cx="506" cy="860.6" rx="5" ry="4.5" stroke-width="2.46" fill="none"/>
<circle cx="506" cy="860.6" r="2.2" fill="#000" stroke="none"/>
<ellipse cx="509.6" cy="885" rx="5" ry="4.5" stroke-width="2.46" fill="none"/>
<circle cx="509.6" cy="885" r="2.2" fill="#000" stroke="none"/>
<ellipse cx="534.4" cy="874.9" rx="5" ry="4.5" stroke-width="2.46" fill="none"/>
<circle cx="534.4" cy="874.9" r="2.2" fill="#000" stroke="none"/>
<ellipse cx="535.4" cy="899.1" rx="5" ry="4.5" stroke-width="2.46" fill="none"/>
<circle cx="535.4" cy="899.1" r="2.2" fill="#000" stroke="none"/>
<polyline points="695.5,885.5 873.5,789.7" stroke-width="1.68" stroke-dasharray="12 2"/>
<polyline points="699.4,896.1 894.6,799.4" stroke-width="1.68" stroke-dasharray="14 2"/>
<path d="M699.4,938.7 L904,829.8 Q910,826 911.4,824.5" stroke-width="1.79" fill="none" stroke-dasharray="16 2"/>
<path d="M871.5,794.1 Q878,787 886.2,784.7 Q896,782 901.9,782.6 Q906,785 905.1,789.9 Q903,795 899.8,796.2 Q890,798.5 881,798.3 Q874,797.5 871.5,794.1 Z" stroke-width="2.02" fill="none"/>
<ellipse cx="892" cy="789.4" rx="6.5" ry="4.6" stroke-width="1.12" fill="#000"/>
<ellipse cx="893" cy="789.4" rx="2.6" ry="1.8" stroke-width="1.12" fill="#fff"/>
<ellipse cx="880" cy="793" rx="4" ry="2" stroke-width="1.34" fill="none"/>
<polyline points="901.9,791.0 906.1,810.9" stroke-width="1.68"/>
<path d="M906,810 Q912,809 914,815 Q915,822 911,825.6 Q907,826 906,822 Z" stroke-width="1.34" fill="#000"/>
<polyline points="886.2,770.0 890.4,781.5" stroke-width="1.23"/>
<polyline points="895.6,797.3 911.0,858.0" stroke-width="1.34" stroke-dasharray="6 2"/>
<polygon points="910.3,859.0 918.0,857.0 921.9,874.0 914.5,876.0" fill="#000" stroke-width="1.0"/>
<polyline points="911.5,862.0 917.0,860.0" stroke-width="0.90" stroke="#fff"/>
<polyline points="913.0,868.0 919.0,866.0" stroke-width="0.90" stroke="#fff"/>
<polyline points="915.6,874.8 928.1,914.7" stroke-width="1.57" stroke-dasharray="5 2"/>
<polyline points="921.9,872.7 933.4,906.3" stroke-width="1.57" stroke-dasharray="5 2"/>
<path d="M896,894 Q892,895 894,900 Q897,904 905,906 L925,914 L933,914 L930,903 Q920,899 912,896 Q903,893 896,894 Z" stroke-width="1.79" fill="none"/>
<ellipse cx="902" cy="898.2" rx="3.3" ry="1.5" stroke-width="1.12" fill="#000"/>
<polyline points="914.0,897.0 920.0,912.0" stroke-width="1.34"/>
<path d="M927,901 L938,899.5 L948,904 L949.5,925 L950,933.6 L943,933 L933,930 Q929,925 928,916 Z" stroke-width="1.79" fill="none"/>
<polyline points="935.0,903.0 938.0,925.0 945.0,930.0" stroke-width="1.34"/>
<polyline points="948.0,904.0 950.0,933.6" stroke-width="2.46"/>
<polyline points="949.1,915.7 977.4,905.2" stroke-width="1.68"/>
<polyline points="950.2,926.2 979.5,913.6" stroke-width="1.68"/>
<path d="M976,904.5 L980,904.5 L981,913 L978,914 Z" stroke-width="1.79" fill="#000"/>
<rect x="836.8" y="834.2" width="7.7000000000000455" height="19.299999999999955" rx="3.8500000000000227" stroke-width="1.6"/>
<polyline points="840.6,838.2 840.6,849.5" stroke-width="1.12"/>
<rect x="846.4" y="826.4" width="7.800000000000068" height="23.300000000000068" rx="3.900000000000034" stroke-width="1.6"/>
<polyline points="850.3,830.4 850.3,845.7" stroke-width="1.12"/>
<rect x="749.7" y="878.7" width="7.699999999999932" height="22.299999999999955" rx="3.849999999999966" stroke-width="1.6"/>
<polyline points="753.5,882.7 753.5,897.0" stroke-width="1.12"/>
<rect x="759.4" y="874.8" width="7.7000000000000455" height="19.40000000000009" rx="3.8500000000000227" stroke-width="1.6"/>
<polyline points="763.2,878.8 763.2,890.2" stroke-width="1.12"/>
<ellipse cx="844.5" cy="814.8" rx="3.5" ry="1.8" stroke-width="1.12" fill="#000"/>
<ellipse cx="738" cy="871" rx="3.5" ry="1.8" stroke-width="1.12" fill="#000"/>
<ellipse cx="803.9" cy="865.2" rx="12.4" ry="13.8" stroke-width="2.91" fill="none"/>
<ellipse cx="803.9" cy="865.2" rx="8" ry="9.5" stroke-width="1.57" fill="none"/>
<polyline points="796.0,868.0 812.0,860.0" stroke-width="1.68"/>
<ellipse cx="694.4" cy="896.5" rx="16.6" ry="6.2" stroke-width="2.24" fill="none"/>
<ellipse cx="694" cy="896.5" rx="9" ry="3.5" stroke-width="1.12" fill="#000"/>
<path d="M702,889 L712,886.5 L718,890 L710,895 Z" stroke-width="1.46" fill="none"/>
<polyline points="680.8,900.5 676.8,934.8" stroke-width="1.79"/>
<polyline points="700.0,900.5 698.0,934.8" stroke-width="1.79"/>
<polyline points="685.0,903.0 683.0,931.0" stroke-width="1.12"/>
<polyline points="695.0,903.0 694.0,931.0" stroke-width="1.12"/>
<polyline points="683.0,915.0 695.0,905.0" stroke-width="1.79"/>
<polyline points="683.0,925.0 695.0,915.0" stroke-width="1.79"/>
<ellipse cx="688" cy="934.5" rx="11" ry="5" stroke-width="2.46" fill="none"/>
<polygon points="680.0,932.0 696.0,931.0 697.0,937.0 681.0,938.0" fill="#000" stroke-width="1.0"/>
<polyline points="692.6,876.0 692.6,890.0" stroke-width="1.34"/>
<polyline points="665.0,990.0 875.0,880.0" stroke-width="1.79"/>
<polyline points="669.0,997.0 877.0,886.0" stroke-width="1.79"/>
<path d="M871,866 L878,864 L879,880 L872,881 Z" stroke-width="1.79" fill="none"/>
<polyline points="880.0,866.0 885.0,863.0" stroke-width="1.79"/>
<circle cx="885.2" cy="863.7" r="1.8" fill="#000" stroke="none"/>
<polyline points="874.0,881.0 876.0,885.0" stroke-width="1.79"/>
<path d="M661,978 L668,977 L669,992 L662,993 Z" stroke-width="1.79" fill="none"/>
<polyline points="668.5,982.0 676.0,979.0" stroke-width="1.79"/>
<path d="M660,993 Q665,997 672,993" stroke-width="1.79" fill="none"/>
<polyline points="688.9,936.8 683.8,991.2" stroke-width="1.23" stroke-dasharray="6 3"/>
<polyline points="679.5,991.2 680.0,1043.6" stroke-width="1.79"/>
<polyline points="687.5,991.2 687.0,1043.6" stroke-width="1.79"/>
<ellipse cx="683.5" cy="991.5" rx="4" ry="1.5" stroke-width="1.57" fill="none"/>
<polyline points="682.0,995.0 682.0,1040.0" stroke-width="1.12" stroke-dasharray="4 3"/>
<path d="M676,1041 L689,1041 L689,1046 L676,1046 Z" stroke-width="1.68" fill="none"/>
<path d="M652,1024 Q648,1030 656,1034 L676,1038 L678,1030 L662,1022 Q656,1020 652,1024 Z" stroke-width="1.79" fill="none"/>
<ellipse cx="657.4" cy="1027.2" rx="3.6" ry="2.0" stroke-width="1.12" fill="#000"/>
<path d="M661.5,1042.5 L676.6,1046 L684,1047 L683,1061.4 L678.4,1077 L673,1079.6 L665,1075 L663.8,1069.6 Z" stroke-width="1.79" fill="none"/>
<polyline points="672.8,1048.5 674.0,1076.0" stroke-width="1.57"/>
<polyline points="674.7,1058.5 683.6,1058.6" stroke-width="1.46"/>
<polyline points="676.6,1046.0 677.5,1045.5" stroke-width="1.34"/>
<polyline points="638.2,1086.0 669.3,1068.6" stroke-width="1.68"/>
<polyline points="641.0,1093.3 673.8,1075.0" stroke-width="1.68"/>
<ellipse cx="639" cy="1090" rx="2.8" ry="4.4" stroke-width="2.02" fill="none" transform="rotate(-30 639 1090)"/>
</g>
<g font-family="Liberation Sans" fill="#000" stroke="#000" stroke-width="0.45">
<text transform="translate(365.7,329.8) scale(0.9,1)" font-size="15">6</text>
<text transform="translate(354.5,359.7) scale(0.9,1)" font-size="15">24</text>
<text transform="translate(496.2,434.4) scale(0.9,1)" font-size="15">25</text>
<text transform="translate(582.5,413.3) scale(0.9,1)" font-size="15">26</text>
<text transform="translate(620.8,421.3) scale(0.9,1)" font-size="15">14</text>
<text transform="translate(611.7,442.5) scale(0.9,1)" font-size="15">30</text>
<text transform="translate(618.8,464.7) scale(0.9,1)" font-size="15">32</text>
<text transform="translate(606.7,514.0) scale(0.9,1)" font-size="15">22</text>
<text transform="translate(595.6,540.3) scale(0.9,1)" font-size="15">3</text>
<text transform="translate(411.0,548.8) scale(0.9,1)" font-size="15">28</text>
<text transform="translate(409.0,570.0) scale(0.9,1)" font-size="15">20</text>
<text transform="translate(559.7,682.0) scale(0.9,1)" font-size="15">16</text>
<text transform="translate(792.2,672.0) scale(0.9,1)" font-size="15">9</text>
<text transform="translate(854.5,629.0) scale(0.9,1)" font-size="15">12</text>
<text transform="translate(871.0,652.3) scale(0.9,1)" font-size="15">19</text>
<text transform="translate(926.1,693.9) scale(0.9,1)" font-size="15">14</text>
<text transform="translate(804.2,707.4) scale(0.9,1)" font-size="15">8</text>
<text transform="translate(801.3,733.5) scale(0.9,1)" font-size="15">33</text>
<text transform="translate(782.8,749.6) scale(0.9,1)" font-size="15">10</text>
<text transform="translate(599.2,761.6) scale(0.9,1)" font-size="15">16</text>
<text transform="translate(610.3,779.2) scale(0.9,1)" font-size="15">1</text>
<text transform="translate(813.9,801.3) scale(0.9,1)" font-size="15">13</text>
<text transform="translate(774.5,808.0) scale(0.9,1)" font-size="15">35</text>
<text transform="translate(753.1,822.8) scale(0.9,1)" font-size="15">27</text>
<text transform="translate(672.4,862.7) scale(0.9,1)" font-size="15">27</text>
<text transform="translate(645.6,872.0) scale(0.9,1)" font-size="15">2</text>
<text transform="translate(380.8,753.4) scale(0.9,1)" font-size="15">14</text>
<text transform="translate(461.4,756.5) scale(0.9,1)" font-size="15">29</text>
<text transform="translate(462.4,776.6) scale(0.9,1)" font-size="15">34</text>
<text transform="translate(463.4,796.8) scale(0.9,1)" font-size="15">23</text>
<text transform="translate(473.5,815.9) scale(0.9,1)" font-size="15">4</text>
<text transform="translate(377.7,807.9) scale(0.9,1)" font-size="15">11</text>
<text transform="translate(568.3,785.7) scale(0.9,1)" font-size="15">15</text>
<text transform="translate(462.4,855.2) scale(0.9,1)" font-size="15">9</text>
<text transform="translate(475.5,911.7) scale(0.9,1)" font-size="15">7</text>
<text transform="translate(561.2,928.8) scale(0.9,1)" font-size="15">36</text>
<text transform="translate(899.0,886.9) scale(0.9,1)" font-size="15">17</text>
<text transform="translate(843.5,934.2) scale(0.9,1)" font-size="15">21</text>
<text transform="translate(782.3,987.0) scale(0.9,1)" font-size="15">31</text>
<text transform="translate(609.9,970.0) scale(0.9,1)" font-size="15">17</text>
<text transform="translate(583.7,999.3) scale(0.9,1)" font-size="15">21</text>
</g>
<text x="755.2" y="1137.3" font-family="Liberation Sans" font-size="31.8" fill="#000" stroke="#000" stroke-width="0.35" textLength="188" lengthAdjust="spacingAndGlyphs">E3-02105A-01</text>
</svg>
</body></html>
